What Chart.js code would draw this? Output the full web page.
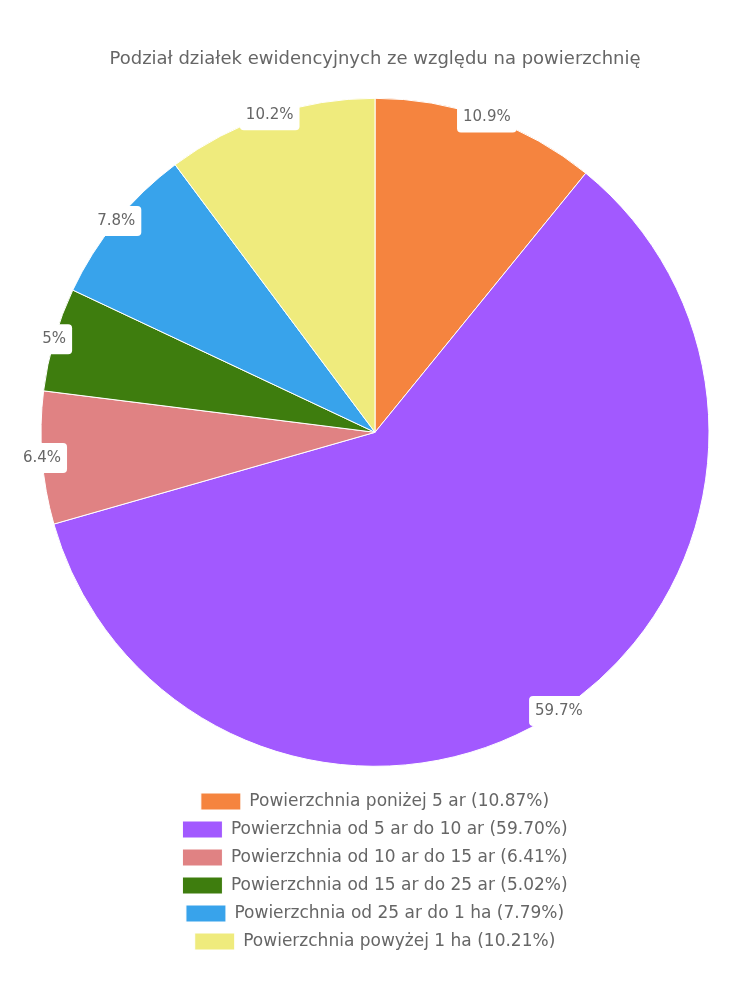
<!DOCTYPE html>
<html>
<head>
<meta charset="utf-8">
<script src="https://cdn.jsdelivr.net/npm/chart.js@4"></script>
<style>
  html, body { margin: 0; padding: 0; background: #fff; }
  #wrap { width: 750px; height: 1000px; }
</style>
</head>
<body>
<div id="wrap"><canvas id="myChart"></canvas></div>
<script>
const titleText = 'Podział działek ewidencyjnych ze względu na powierzchnię';
const categories = [
    'Powierzchnia poniżej 5 ar',
    'Powierzchnia od 5 ar do 10 ar',
    'Powierzchnia od 10 ar do 15 ar',
    'Powierzchnia od 15 ar do 25 ar',
    'Powierzchnia od 25 ar do 1 ha',
    'Powierzchnia powyżej 1 ha'
];
const shares = [10.87, 59.70, 6.41, 5.02, 7.79, 10.21];
const colors = ['#F5843F', '#A259FF', '#E08283', '#3E7D0E', '#38A3EB', '#EFEB7D'];

const fontFamily = "'DejaVu Sans', sans-serif";
const grey = '#666666';

// labels in white boxes on the outer edge of each slice
const edgeLabels = {
    id: 'edgeLabels',
    afterDatasetsDraw(chart) {
        const ctx = chart.ctx;
        const meta = chart.getDatasetMeta(0);
        ctx.save();
        ctx.font = '15px ' + fontFamily;
        ctx.textAlign = 'center';
        ctx.textBaseline = 'middle';
        meta.data.forEach((arc, i) => {
            const p = arc.getProps(['x', 'y', 'startAngle', 'endAngle', 'outerRadius'], true);
            const mid = (p.startAngle + p.endAngle) / 2;
            const x = p.x + Math.cos(mid) * p.outerRadius;
            const y = p.y + Math.sin(mid) * p.outerRadius;
            const txt = parseFloat(shares[i].toFixed(1)) + '%';
            const w = ctx.measureText(txt).width + 12;
            const h = 30;
            ctx.fillStyle = '#ffffff';
            ctx.beginPath();
            ctx.roundRect(x - w / 2, y - h / 2, w, h, 4);
            ctx.fill();
            ctx.fillStyle = grey;
            ctx.fillText(txt, x, y);
        });
        ctx.restore();
    }
};

const ctx = document.getElementById('myChart').getContext('2d');
const myChart = new Chart(ctx, {
    type: 'pie',
    data: {
        labels: categories.map((c, i) => c + ' (' + shares[i].toFixed(2) + '%)'),
        datasets: [{
            data: shares,
            backgroundColor: colors,
            borderColor: '#ffffff',
            borderWidth: 1,
            radius: 334
        }]
    },
    options: {
        responsive: true,
        maintainAspectRatio: false,
        animation: false,
        layout: { padding: { top: 0, left: 41, right: 41, bottom: 40 } },
        plugins: {
            title: {
                display: true,
                text: titleText,
                color: grey,
                font: { family: fontFamily, size: 18, weight: 'normal' },
                padding: { top: 49, bottom: 12 }
            },
            legend: {
                position: 'bottom',
                labels: {
                    color: grey,
                    font: { family: fontFamily, size: 17 },
                    boxWidth: 40,
                    boxHeight: 17,
                    padding: 11
                }
            },
            tooltip: { enabled: false }
        }
    },
    plugins: [edgeLabels]
});
</script>
</body>
</html>
